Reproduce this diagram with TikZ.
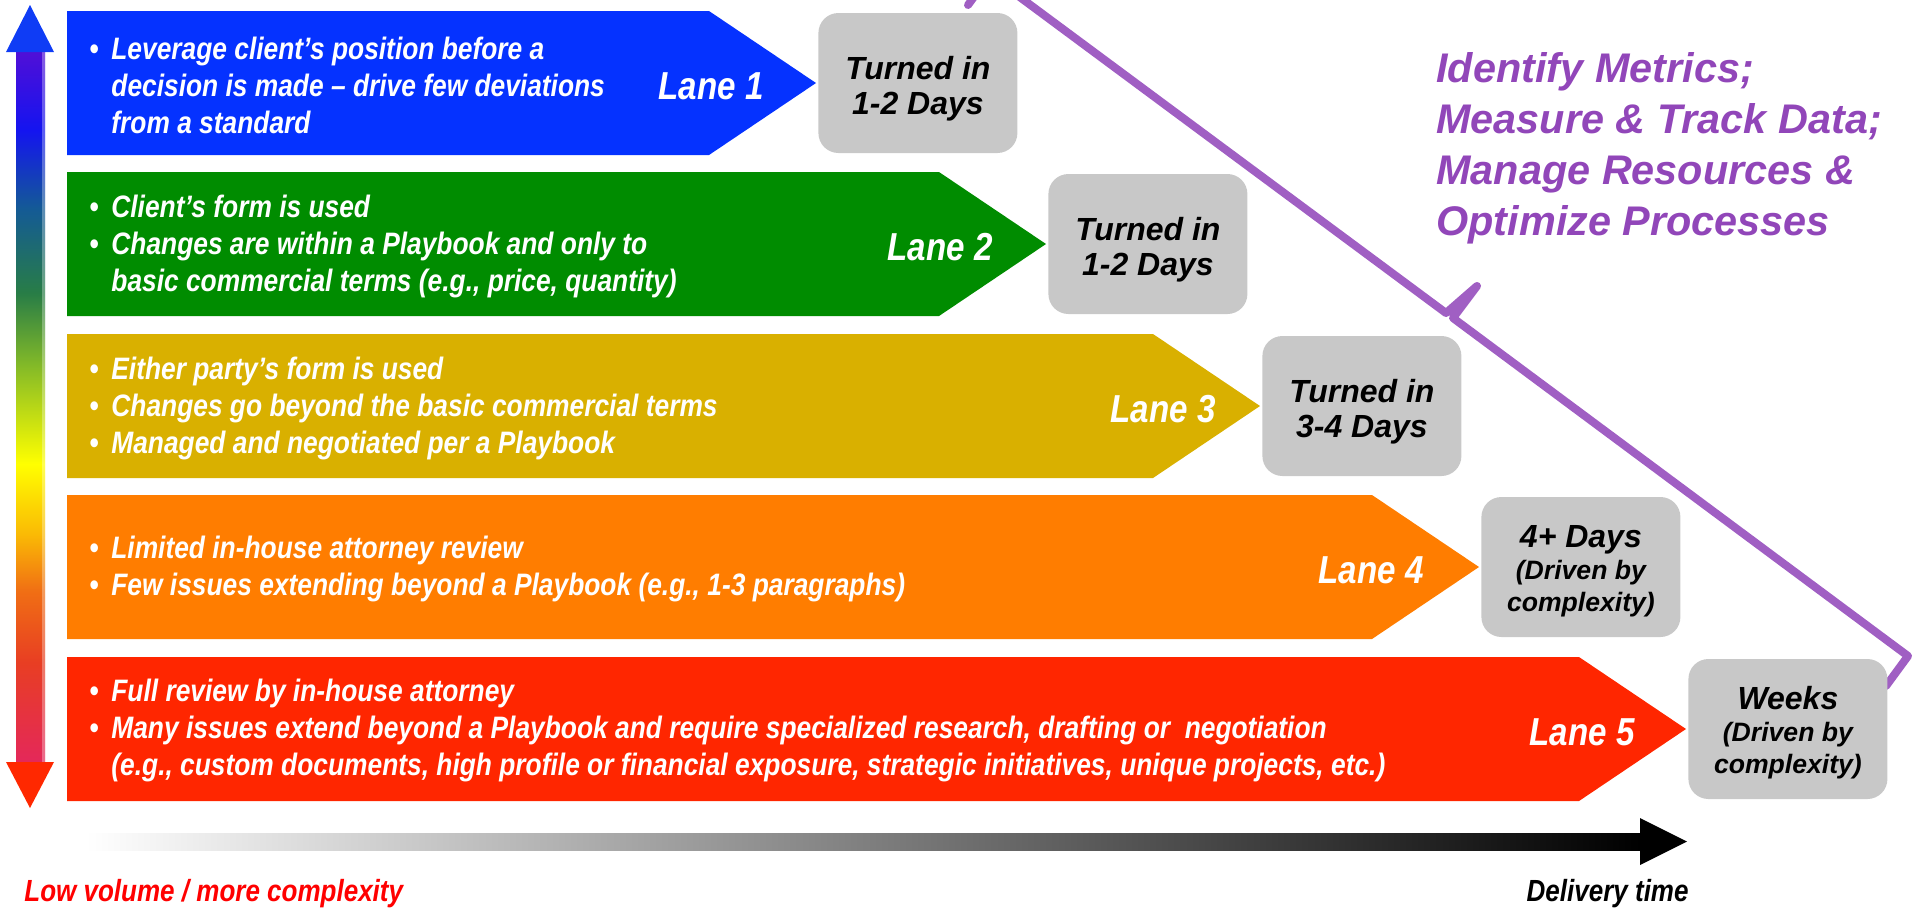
\documentclass[tikz,border=0pt]{standalone}
\usepackage{fontspec}
\setmainfont{Liberation Sans}
\newfontfamily\lanefont{Liberation Sans}[FakeStretch=0.85]
\usetikzlibrary{positioning}
\definecolor{LaneBlue}{RGB}{5,50,255}
\definecolor{LaneGreen}{RGB}{0,140,0}
\definecolor{LaneGold}{RGB}{217,176,0}
\definecolor{LaneOrange}{RGB}{255,125,0}
\definecolor{LaneRed}{RGB}{255,38,0}
\definecolor{BoxGray}{RGB}{200,200,200}
\definecolor{Brace}{RGB}{160,95,195}
\definecolor{Metric}{RGB}{145,70,185}
\definecolor{SpViolet}{RGB}{80,15,215}
\definecolor{SpBlue}{RGB}{20,20,240}
\definecolor{SpTeal}{RGB}{20,90,150}
\definecolor{SpGreen}{RGB}{40,125,70}
\definecolor{SpLime}{RGB}{130,185,40}
\definecolor{SpYellow}{RGB}{255,255,0}
\definecolor{SpAmber}{RGB}{250,185,5}
\definecolor{SpOrange}{RGB}{240,110,20}
\definecolor{SpRust}{RGB}{232,62,35}
\definecolor{SpCrimson}{RGB}{228,40,90}
\definecolor{HeadBlue}{RGB}{15,60,245}
\definecolor{HeadRed}{RGB}{255,40,0}
\pgfdeclareverticalshading{spectrum}{100bp}{color(0bp)=(SpCrimson); color(25bp)=(SpCrimson);
  color(32bp)=(SpRust); color(37bp)=(SpOrange); color(41bp)=(SpAmber); color(46bp)=(SpYellow);
  color(53bp)=(SpLime); color(58bp)=(SpGreen); color(64bp)=(SpTeal); color(69.5bp)=(SpBlue);
  color(75bp)=(SpViolet); color(100bp)=(SpViolet)}
\newcommand\bl{\makebox[11pt][l]{\textbullet}}
\newcommand\ind{\hspace*{11pt}}
\newcommand\drv[1]{{\fontsize{13.3}{16}\selectfont #1}}

\begin{document}
\begin{tikzpicture}[x=0.5pt, y=-0.5pt,
    lanetxt/.style={anchor=west, inner sep=0pt, align=left, text=white,
      font=\lanefont\bfseries\itshape\fontsize{15.5}{18.5}\selectfont},
    lanelbl/.style={anchor=east, inner sep=0pt, text=white,
      font=\lanefont\bfseries\itshape\fontsize{19.5}{24}\selectfont},
    daysbox/.style={fill=BoxGray, rounded corners=10pt, minimum width=99.5pt,
      minimum height=70pt, inner sep=0pt},
    daystxt/.style={inner sep=0pt, align=center,
      font=\bfseries\itshape\fontsize{16}{17.5}\selectfont},
    drivtxt/.style={daystxt, font=\bfseries\itshape\fontsize{16}{16}\selectfont},
    axislbl/.style={inner sep=0pt, font=\lanefont\bfseries\itshape\fontsize{15.3}{17}\selectfont}
  ]
  \useasboundingbox (0,0) rectangle (1916,907);
  \clip (0,0) rectangle (1916,907);

  % metrics bracket
  \draw[Brace, line width=4pt, line cap=round, line join=round]
    (968,5) -- (990,-25) -- (1446,313) -- (1477,286) -- (1453,318)
    -- (1908,656) -- (1886,686);
  \node[anchor=west, inner sep=0pt, align=left, text=Metric,
    font=\bfseries\itshape\fontsize{20.7}{25.5}\selectfont] (metrics) at (1436,148)
    {Identify Metrics;\\Measure \& Track Data;\\Manage Resources \&\\Optimize Processes};

  % volume / complexity scale
  \shade[shading=spectrum] (16,52) rectangle (45,762);
  \fill[white, opacity=0.3] (42,52) rectangle (45,762);
  \fill[HeadBlue] (30,5) -- (54,52) -- (6,52) -- cycle;
  \fill[HeadRed] (30,808) -- (54,762) -- (6,762) -- cycle;

  % lanes
  \foreach \i/\top/\tip/\lx/\col in {1/11/816/52/LaneBlue, 2/172/1046/53/LaneGreen,
      3/334/1260/44/LaneGold, 4/495/1479/55/LaneOrange, 5/657/1686/51/LaneRed} {
    \fill[\col] (67,\top) -- (\tip-107,\top) -- (\tip,\top+72)
      -- (\tip-107,\top+144) -- (67,\top+144) -- cycle;
    \coordinate (tip\i) at (\tip,\top+72);
    \node[lanelbl] (lbl\i) at (\tip-\lx,\top+75) {Lane \i};
  }

  \node[lanetxt] (txt1) at (89,85) {\bl Leverage client’s position before a\\
    \ind decision is made – drive few deviations\\\ind from a standard};
  \node[lanetxt] (txt2) at (89,246) {\bl Client’s form is used\\
    \bl Changes are within a Playbook and only to\\
    \ind basic commercial terms (e.g., price, quantity)};
  \node[lanetxt] (txt3) at (89,408) {\bl Either party’s form is used\\
    \bl Changes go beyond the basic commercial terms\\
    \bl Managed and negotiated per a Playbook};
  \node[lanetxt] (txt4) at (89,569) {\bl Limited in-house attorney review\\
    \bl Few issues extending beyond a Playbook (e.g., 1-3 paragraphs)};
  \node[lanetxt] (txt5) at (89,730) {\bl Full review by in-house attorney\\
    \bl Many issues extend beyond a Playbook and require specialized research, drafting or \ negotiation\\
    \ind (e.g., custom documents, high profile or financial exposure, strategic initiatives, unique projects, etc.)};

  % turnaround
  \foreach \i in {1,...,5}
    \node[daysbox, right=1pt of tip\i] (days\i) {};
  \node[daystxt] (dt1) at ([yshift=-3pt]days1.center) {Turned in\\1-2 Days};
  \node[daystxt] (dt2) at ([yshift=-3pt]days2.center) {Turned in\\1-2 Days};
  \node[daystxt] (dt3) at ([yshift=-3pt]days3.center) {Turned in\\3-4 Days};
  \node[drivtxt] (dt4) at ([yshift=-2pt]days4.center) {4+ Days\\\drv{(Driven by}\\\drv{complexity)}};
  \node[drivtxt] (dt5) at ([yshift=-2pt]days5.center) {Weeks\\\drv{(Driven by}\\\drv{complexity)}};

  % delivery time
  \shade[left color=white, right color=black] (86,833) rectangle (1640,850);
  \fill[black] (1640,818) -- (1687,841.5) -- (1640,865) -- cycle;
  \node[axislbl, anchor=west, text=red] (low) at (24,894) {Low volume / more complexity};
  \node[axislbl, anchor=east] (time) at (1689,894) {Delivery time};
\end{tikzpicture}
\end{document}
